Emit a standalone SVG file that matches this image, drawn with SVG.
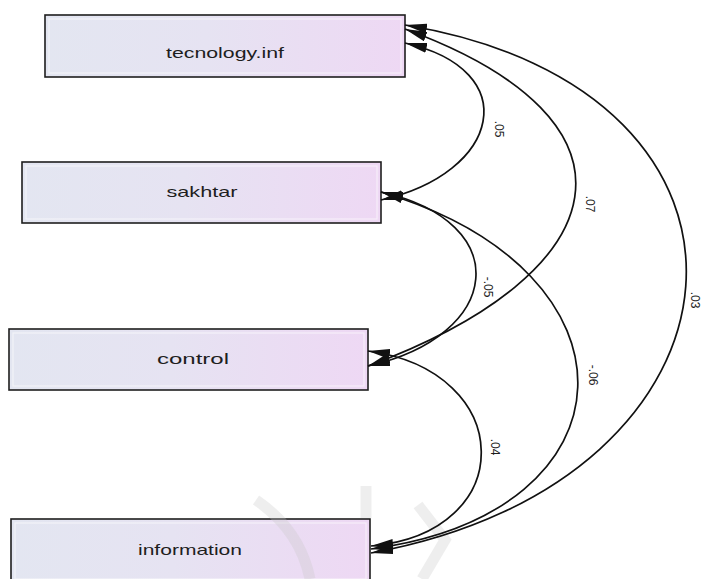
<svg xmlns="http://www.w3.org/2000/svg" width="702" height="579" viewBox="0 0 702 579">
<style>
.box{fill:url(#g);stroke:#1e1e1e;stroke-width:1.6}
.inner{fill:none;stroke:#ffffff;stroke-opacity:0.55;stroke-width:1.2}
.lbl{font-family:"Liberation Sans",Arial,sans-serif;font-size:15px;fill:#1e1e1e;text-anchor:middle}
.num{font-family:"Liberation Sans",Arial,sans-serif;font-size:12px;fill:#1e1e1e;text-anchor:middle;dominant-baseline:central}
.arc{fill:none;stroke:#111;stroke-width:1.7;marker-start:url(#ah);marker-end:url(#ah)}
.wm{fill:none;stroke:#c8c8c8;stroke-opacity:0.3;stroke-width:11}
</style>
<defs>
<linearGradient id="g" x1="0" y1="0" x2="1" y2="0">
<stop offset="0" stop-color="#e3e6f1"/>
<stop offset="0.45" stop-color="#e6e3f2"/>
<stop offset="1" stop-color="#eed8f4"/>
</linearGradient>
<marker id="ah" viewBox="0 0 22 10" refX="22" refY="5" markerWidth="22" markerHeight="10" orient="auto-start-reverse" markerUnits="userSpaceOnUse">
<path d="M0,0 L22,5 L0,10 z" fill="#111"/>
</marker>
</defs>
<rect width="702" height="579" fill="#ffffff"/>
<g id="tecnology">
<rect class="box" x="45" y="15" width="360" height="62"/>
<rect class="inner" x="49" y="19" width="352" height="54"/>
<text class="lbl" x="225" y="58" textLength="118" lengthAdjust="spacingAndGlyphs">tecnology.inf</text>
</g>
<g id="sakhtar">
<rect class="box" x="22" y="162" width="359" height="61"/>
<rect class="inner" x="26" y="166" width="351" height="53"/>
<text class="lbl" x="202" y="197" textLength="71" lengthAdjust="spacingAndGlyphs">sakhtar</text>
</g>
<g id="control">
<rect class="box" x="9" y="329" width="359" height="61"/>
<rect class="inner" x="13" y="333" width="351" height="53"/>
<text class="lbl" x="193" y="364" textLength="72" lengthAdjust="spacingAndGlyphs">control</text>
</g>
<g id="information">
<rect class="box" x="11" y="519" width="359" height="64"/>
<rect class="inner" x="15" y="523" width="351" height="56"/>
<text class="lbl" x="190" y="555" textLength="104" lengthAdjust="spacingAndGlyphs">information</text>
</g>
<g id="watermark">
<path class="wm" d="M256,500 Q300,530 310,579"/>
<path class="wm" d="M366,486 L366,518"/>
<path class="wm" d="M418,505 L445,540 L422,579"/>
</g>
<g id="connectors">
<path class="arc" d="M405,43 C525,70 501,173 381,200"/>
<path class="arc" d="M405,29 C656,121 619,273 368,366"/>
<path class="arc" d="M405,25 C802,90 768,481 371,553"/>
<path class="arc" d="M381,192 C516,222 503,336 368,366"/>
<path class="arc" d="M381,192 C650,272 640,513 371,549"/>
<path class="arc" d="M368,351 C517,371 520,533 371,546"/>
<text class="num" transform="translate(499,129) rotate(90)">.05</text>
<text class="num" transform="translate(590,204) rotate(90)">.07</text>
<text class="num" transform="translate(695,300) rotate(90)">.03</text>
<text class="num" transform="translate(488,287) rotate(90)">-.05</text>
<text class="num" transform="translate(593,375) rotate(90)">-.06</text>
<text class="num" transform="translate(495,447) rotate(90)">.04</text>
</g>
</svg>
